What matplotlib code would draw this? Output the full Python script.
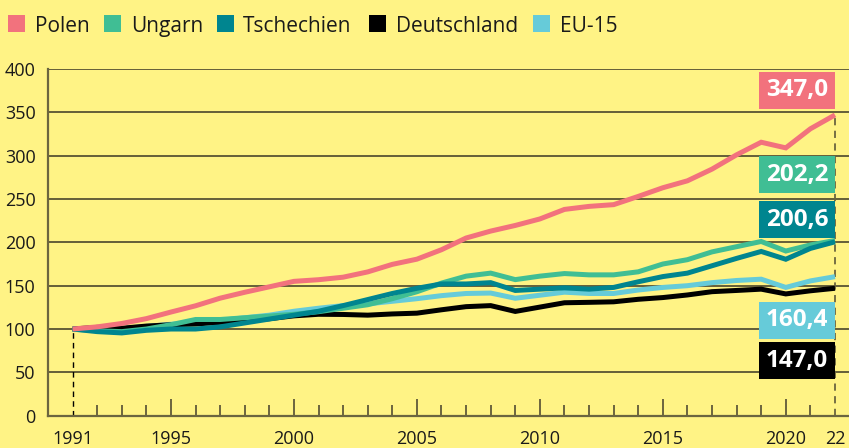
import matplotlib
matplotlib.use("Agg")
import matplotlib.pyplot as plt
from matplotlib.patches import Rectangle

# ---- data ----
years = list(range(1991, 2023))
series_names = ["Polen", "Ungarn", "Tschechien", "Deutschland", "EU-15"]
polen = [100, 102.5, 106.4, 112.0, 119.6, 126.8, 135.6, 142.4, 148.7, 155.0,
         156.9, 159.8, 165.9, 174.6, 180.6, 191.5, 205.0, 213.0, 219.5, 227.0,
         238.0, 241.5, 243.5, 253.0, 263.0, 271.0, 284.5, 301.0, 315.5, 309.0,
         331.0, 347.0]
ungarn = [100, 98.0, 97.0, 100.0, 105.0, 111.0, 111.0, 113.0, 115.0, 117.0,
          120.0, 124.0, 128.0, 135.0, 143.0, 153.0, 161.0, 164.5, 157.0, 161.0,
          164.0, 162.5, 162.5, 166.0, 175.0, 180.0, 189.0, 195.0, 201.0, 190.0,
          197.0, 202.2]
tschechien = [100, 97.0, 95.5, 98.5, 100.0, 100.0, 102.5, 107.0, 111.5, 116.0,
              120.5, 127.0, 134.0, 141.0, 147.0, 152.0, 152.0, 153.5, 144.5, 146.0,
              147.5, 146.0, 148.0, 154.5, 160.5, 164.5, 173.0, 181.5, 189.5, 180.5,
              193.0, 200.6]
deutschland = [100, 101.9, 100.9, 103.4, 104.9, 105.8, 107.7, 109.8, 111.9, 115.2,
               117.0, 116.8, 116.0, 117.4, 118.3, 122.2, 125.8, 127.0, 120.3, 125.3,
               130.3, 130.8, 131.4, 134.3, 136.3, 139.3, 143.1, 144.5, 146.0, 140.5,
               144.1, 147.0]
eu15 = [100, 101.0, 100.5, 103.0, 105.5, 107.5, 110.0, 113.0, 116.0, 120.5,
        124.0, 127.0, 129.0, 132.0, 135.0, 138.5, 141.0, 141.5, 135.5, 139.0,
        142.5, 141.0, 141.0, 145.0, 148.0, 150.0, 153.5, 156.0, 157.5, 148.0,
        155.5, 160.4]
x_tick_positions = [1991, 1995, 2000, 2005, 2010, 2015, 2020, 2022]
x_tick_labels = ["1991", "1995", "2000", "2005", "2010", "2015", "2020", "22"]
y_ticks = [0, 50, 100, 150, 200, 250, 300, 350, 400]
end_label_names = ["Polen", "Ungarn", "Tschechien", "EU-15", "Deutschland"]
end_labels = ["347,0", "202,2", "200,6", "160,4", "147,0"]

# ---- style ----
BG = "#fff385"
colors = {"Polen": "#f2727d", "Ungarn": "#40be94", "Tschechien": "#00858f",
          "Deutschland": "#000000", "EU-15": "#66cbd9"}
TXT = "#1a1a1a"
OLIVE = "#6b653f"
FONT = "Open Sans"
plt.rcParams["font.family"] = [FONT, "DejaVu Sans"]

W, H = 849, 448
fig = plt.figure(figsize=(W / 100, H / 100), dpi=100, facecolor=BG)
ax_left, ax_bottom, ax_top = 48, 32.3, 379
ax = fig.add_axes([ax_left / W, ax_bottom / H, 1 - ax_left / W, (ax_top - ax_bottom) / H])
ax.set_facecolor(BG)
ax.set_xlim(1990.0, 2022.57)
ax.set_ylim(0, 400)

for s in ["top", "right"]:
    ax.spines[s].set_visible(False)
for s in ["left", "bottom"]:
    ax.spines[s].set_color(OLIVE)
    ax.spines[s].set_linewidth(1.6)

ax.set_yticks(y_ticks)
ax.set_yticklabels([str(v) for v in y_ticks])
ax.yaxis.grid(True, color="#3a3724", linewidth=1.1)
ax.set_axisbelow(True)
ax.tick_params(axis="y", length=0, pad=9, labelsize=13, labelcolor=TXT)

ax.set_xticks(x_tick_positions)
ax.set_xticklabels(x_tick_labels)
ax.set_xticks([y for y in years if y not in x_tick_positions], minor=True)
ax.tick_params(axis="x", which="major", direction="in", length=12, width=1.4,
               color=OLIVE, pad=10, labelsize=13, labelcolor=TXT)
ax.tick_params(axis="x", which="minor", direction="in", length=8, width=1.4,
               color=OLIVE)
for t in ax.xaxis.get_major_ticks():
    if t.get_loc() in (1991, 2022):
        t.tick1line.set_visible(False)

# dashed reference lines
ax.plot([years[0], years[0]], [0, polen[0]], color="#000000", lw=1.0,
        dashes=(4, 3), zorder=2)
ax.plot([years[-1], years[-1]], [0, polen[-1]], color=OLIVE, lw=1.3,
        dashes=(4, 3), zorder=2)

# lines
data = {"Polen": polen, "Ungarn": ungarn, "Tschechien": tschechien,
        "Deutschland": deutschland, "EU-15": eu15}
for name in ["EU-15", "Deutschland", "Ungarn", "Tschechien", "Polen"]:
    ax.plot(years, data[name], color=colors[name], lw=3.6,
            solid_joinstyle="miter", solid_capstyle="butt", zorder=3)

# end labels (boxes)
label_y_centers = [375.5, 277.9, 226.0, 110.0, 63.6]
box_w = 76 / 24.6
box_h = 37 / 0.866
for name, txt, yc in zip(end_label_names, end_labels, label_y_centers):
    ax.add_patch(Rectangle((years[-1] - box_w, yc - box_h / 2), box_w, box_h,
                           facecolor=colors[name], edgecolor="none", zorder=5,
                           clip_on=False))
    ax.text(years[-1] - box_w / 2, yc, txt, ha="center", va="center",
            color="white", fontsize=17.5, fontweight="bold", zorder=6,
            clip_on=False)

# legend (manual)
sq_x = [8, 104, 217, 369, 533]
txt_x = [35, 131, 243, 396, 560]
yc = 24
for name, sx, tx in zip(series_names, sq_x, txt_x):
    fig.patches.append(Rectangle((sx / W, (H - yc - 8.5) / H), 17 / W, 17 / H,
                                 transform=fig.transFigure, facecolor=colors[name],
                                 edgecolor="none"))
    fig.text(tx / W, (H - yc) / H, name, ha="left", va="center_baseline",
             fontsize=15, color=TXT)

fig.savefig("out.png", dpi=100, facecolor=BG)
